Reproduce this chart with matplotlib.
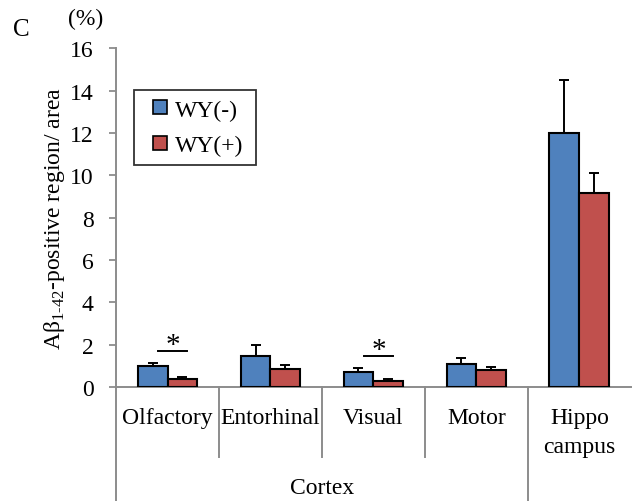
import matplotlib
matplotlib.use("Agg")
import matplotlib.pyplot as plt
from matplotlib.lines import Line2D
import numpy as np

regions = ["Olfactory", "Entorhinal", "Visual", "Motor", "Hippo\ncampus"]
wy_minus = [0.98, 1.45, 0.72, 1.08, 12.0]
wy_minus_err = [0.17, 0.52, 0.18, 0.27, 2.5]
wy_plus = [0.36, 0.86, 0.30, 0.80, 9.15]
wy_plus_err = [0.12, 0.20, 0.08, 0.14, 0.95]
sig_idx = [0, 2]
sig_y = [1.7, 1.46]

plt.rcParams["font.family"] = ["Liberation Serif", "DejaVu Serif"]
plt.rcParams["mathtext.fontset"] = "custom"
plt.rcParams["mathtext.rm"] = "Liberation Serif"

blue = "#4F81BD"
red = "#C0504D"
grey = "#8C8C8C"
fs = 17

fig = plt.figure(figsize=(6.34, 5.02), dpi=100)
ax = fig.add_axes([0.183, 0.227, 0.812, 0.675])

x = np.arange(len(regions))
w = 0.29
ekw = dict(ecolor="black", capsize=3.6, elinewidth=1.4, capthick=1.4)
ax.bar(x - w / 2, wy_minus, w, color=blue, edgecolor="black", linewidth=1.5,
       yerr=[np.zeros(5), wy_minus_err], error_kw=ekw, zorder=3)
ax.bar(x + w / 2, wy_plus, w, color=red, edgecolor="black", linewidth=1.5,
       yerr=[np.zeros(5), wy_plus_err], error_kw=ekw, zorder=3)

# significance marks
for i, yv in zip(sig_idx, sig_y):
    ax.plot([x[i] - 0.09, x[i] + 0.19], [yv, yv], color="black", lw=1.4)
    ax.text(x[i] + 0.05, yv + 0.3, "*", ha="center", va="center", fontsize=21)

ax.set_xlim(-0.5, 4.5)
ax.set_ylim(0, 16)
ax.set_yticks(np.arange(0, 17, 2))
ax.tick_params(axis="y", labelsize=fs, color=grey, length=5, width=1.3, pad=11)
ax.set_xticks([])
for s in ["top", "right"]:
    ax.spines[s].set_visible(False)
for s in ["left", "bottom"]:
    ax.spines[s].set_color(grey)
    ax.spines[s].set_linewidth(1.4)

# category labels and separators below the axis
tr = ax.get_xaxis_transform()
for i, name in enumerate(regions):
    ax.text(x[i], -0.06, name, transform=tr, ha="center", va="top", fontsize=fs, linespacing=1.45)
for b in [0.5, 1.5, 2.5]:
    ax.plot([b, b], [0, -0.206], transform=tr, color=grey, lw=1.4, clip_on=False)
for b in [-0.5, 3.5]:
    ax.plot([b, b], [0, -0.34], transform=tr, color=grey, lw=1.4, clip_on=False)
ax.text(1.5, -0.295, "Cortex", transform=tr, ha="center", va="center", fontsize=fs)

ax.set_ylabel("Aβ$_{\\mathrm{1\u201042}}$-positive region/ area", fontsize=fs, labelpad=2)
fig.text(0.107, 0.962, "(%)", fontsize=fs, ha="left", va="center")
fig.text(0.02, 0.94, "C", fontsize=18, ha="left", va="center")

handles = [Line2D([], [], ls="", marker="s", ms=9.4, mfc=blue, mec="black", mew=1.2),
           Line2D([], [], ls="", marker="s", ms=9.4, mfc=red, mec="black", mew=1.2)]
leg = ax.legend(handles, ["WY(-)", "WY(+)"], loc="upper left", bbox_to_anchor=(0.035, 0.5, 0.237, 0.376),
                mode="expand", fontsize=fs, frameon=True, fancybox=False, edgecolor="black",
                handlelength=1.45, handletextpad=-0.1, borderpad=0.38, labelspacing=0.6, borderaxespad=0)
leg.get_frame().set_linewidth(1.3)

fig.savefig("out.png", dpi=100)
